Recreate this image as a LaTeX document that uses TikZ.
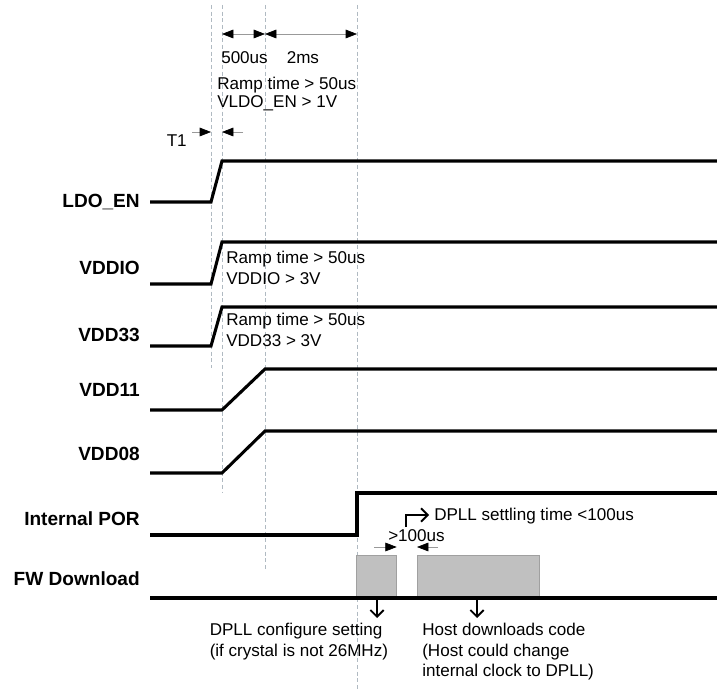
\documentclass[tikz,border=0pt]{standalone}
\usepackage{fontspec}
\setmainfont{Liberation Sans}
\usetikzlibrary{arrows.meta,positioning,calc}

\definecolor{guidegray}{RGB}{176,186,194}
\definecolor{boxgray}{RGB}{192,192,192}
\definecolor{boxedge}{RGB}{160,160,160}

\begin{document}
\begin{tikzpicture}[x=0.75pt,y=-0.75pt,
    sig/.style={line width=2.3pt, line join=miter},
    guide/.style={densely dashed, line width=0.45pt, draw=guidegray},
    dim/.style={line width=0.5pt, draw=gray!80},
    tip/.style={-{Triangle[length=8.5pt,width=6.5pt,color=black]}},
    tips/.style={{Triangle[length=8.5pt,width=6.5pt,color=black]}-{Triangle[length=8.5pt,width=6.5pt,color=black]}},
    pointer/.style={line width=1.4pt, -{Straight Barb[length=5pt,width=10pt]}},
    sig_label/.style={anchor=base east, inner sep=0pt,
      font=\fontsize{14.3}{17}\selectfont\bfseries},
    note/.style={align=left, inner sep=0pt, anchor=north west,
      font=\fontsize{12.8}{15.3}\selectfont},
    fw_box/.style={fill=boxgray, draw=boxedge, line width=0.4pt,
      minimum height=31.5pt, anchor=south west, inner sep=0pt}
  ]
  \useasboundingbox (0,0) rectangle (717,691);

  % --- Guide lines ---
  \foreach \x/\yend in {211/368, 222/492, 265/570, 357/691}
    \draw[guide] (\x,5) -- (\x,\yend);

  % --- Top dimensions ---
  \coordinate (d1) at (222,34);
  \coordinate (d2) at (265,34);
  \coordinate (d3) at (357,34);
  \draw[dim, tips] (d1) -- (d2);
  \draw[dim, tips] (d2) -- (d3);
  \node[note, anchor=base west] (t500) at (221,63.5) {500us};
  \node[note, anchor=base west] (t2ms) at (286.5,63.5) {2ms};
  \node[note, font=\fontsize{12.8}{13.5}\selectfont] (ldo_note) at (217,76.5)
    {Ramp time > 50us\\VLDO\_EN > 1V};

  % --- T1 ---
  \coordinate (t1a) at (192,132);
  \coordinate (t1b) at (243,132);
  \draw[dim, tip] (t1a) -- (211,132);
  \draw[dim, tip] (t1b) -- (222,132);
  \node[note, anchor=base west] (t1) at (166.5,146.5) {T1};

  % --- Signal labels ---
  \node[sig_label] (ldo_en) at (140,208) {LDO\_EN};
  \node[sig_label] (vddio) at (140,275) {VDDIO};
  \node[sig_label] (vdd33) at (140,341.5) {VDD33};
  \node[sig_label] (vdd11) at (140,396.5) {VDD11};
  \node[sig_label] (vdd08) at (140,460) {VDD08};
  \node[sig_label] (por) at (140,525) {Internal POR};
  \node[sig_label] (fw) at (140,585) {FW Download};

  % --- Waveforms ---
  \draw[sig] (150,202) -- (211,202) -- (222,161) -- (717,161);
  \draw[sig] (150,284) -- (211,284) -- (222,242) -- (717,242);
  \draw[sig] (150,346) -- (211,346) -- (222,307) -- (717,307);
  \draw[sig] (150,410) -- (222,410) -- (265,369) -- (717,369);
  \draw[sig] (150,473) -- (222,473) -- (265,431) -- (717,431);
  \draw[sig] (150,535) -- (357,535) -- (357,493) -- (717,493);

  % --- FW download ---
  \node[fw_box, minimum width=30.5pt] (cfg) at (355.5,598) {};
  \node[fw_box, minimum width=91.5pt] (dl) at (417,598) {};
  \draw[sig] (150,598) -- (717,598);

  % --- Ramp notes ---
  \node[note] (vddio_note) at (226,251) {Ramp time > 50us\\VDDIO > 3V};
  \node[note] (vdd33_note) at (226,313) {Ramp time > 50us\\VDD33 > 3V};

  % --- >100us gap ---
  \coordinate (g1) at (374,547);
  \coordinate (g2) at (438,547);
  \draw[dim, tip] (g1) -- (cfg.east |- g1);
  \draw[dim, tip] (g2) -- (dl.west |- g2);
  \node[note, anchor=base west] (gap) at (388,541.5) {>100us};

  % --- DPLL settling ---
  \node[note, anchor=base west] (settle) at (434,520) {DPLL settling time <100us};
  \coordinate (settle_tip) at (429,515);
  \draw[pointer] (406,527) |- (settle_tip);

  % --- Bottom notes ---
  \node[note] (cfg_note) at (209.5,623)
    {DPLL configure setting\\(if crystal is not 26MHz)};
  \node[note] (dl_note) at (422,623)
    {Host downloads code\\(Host could change\\internal clock to DPLL)};
  \draw[pointer] (377,598) -- (377,618);
  \draw[pointer] (477,598) -- (477,618);
\end{tikzpicture}
\end{document}
